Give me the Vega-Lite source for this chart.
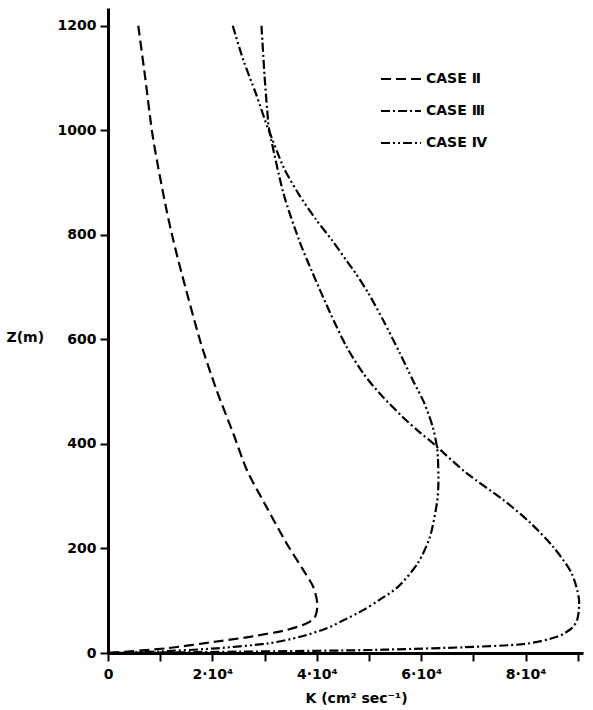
{
  "$schema": "https://vega.github.io/schema/vega-lite/v6.json",
  "width": 475,
  "height": 645,
  "autosize": "none",
  "padding": {"left": 108, "top": 8, "right": 10, "bottom": 57},
  "background": "white",
  "config": {
    "view": {"stroke": null},
    "font": "DejaVu Sans",
    "axis": {"grid": false, "domainColor": "#000000", "tickColor": "#000000", "labelColor": "#000000", "titleColor": "#000000"}
  },
  "datasets": {
    "curves": [
      {"case": "CASE Ⅱ", "i": 0, "K": 5800, "Z": 1200},
      {"case": "CASE Ⅱ", "i": 1, "K": 7100, "Z": 1103},
      {"case": "CASE Ⅱ", "i": 2, "K": 8400, "Z": 1000},
      {"case": "CASE Ⅱ", "i": 3, "K": 9600, "Z": 930},
      {"case": "CASE Ⅱ", "i": 4, "K": 11200, "Z": 848},
      {"case": "CASE Ⅱ", "i": 5, "K": 12500, "Z": 790},
      {"case": "CASE Ⅱ", "i": 6, "K": 14100, "Z": 727},
      {"case": "CASE Ⅱ", "i": 7, "K": 17600, "Z": 599},
      {"case": "CASE Ⅱ", "i": 8, "K": 20800, "Z": 503},
      {"case": "CASE Ⅱ", "i": 9, "K": 24000, "Z": 420},
      {"case": "CASE Ⅱ", "i": 10, "K": 26600, "Z": 350},
      {"case": "CASE Ⅱ", "i": 11, "K": 30000, "Z": 286},
      {"case": "CASE Ⅱ", "i": 12, "K": 34200, "Z": 210},
      {"case": "CASE Ⅱ", "i": 13, "K": 37400, "Z": 159},
      {"case": "CASE Ⅱ", "i": 14, "K": 39300, "Z": 127},
      {"case": "CASE Ⅱ", "i": 15, "K": 40100, "Z": 95},
      {"case": "CASE Ⅱ", "i": 16, "K": 39700, "Z": 70},
      {"case": "CASE Ⅱ", "i": 17, "K": 38100, "Z": 57},
      {"case": "CASE Ⅱ", "i": 18, "K": 34200, "Z": 44},
      {"case": "CASE Ⅱ", "i": 19, "K": 27200, "Z": 31},
      {"case": "CASE Ⅱ", "i": 20, "K": 20800, "Z": 22},
      {"case": "CASE Ⅱ", "i": 21, "K": 11200, "Z": 9},
      {"case": "CASE Ⅱ", "i": 22, "K": 0, "Z": 0},
      {"case": "CASE Ⅲ", "i": 0, "K": 29400, "Z": 1200},
      {"case": "CASE Ⅲ", "i": 1, "K": 30000, "Z": 1103},
      {"case": "CASE Ⅲ", "i": 2, "K": 30500, "Z": 1039},
      {"case": "CASE Ⅲ", "i": 3, "K": 31000, "Z": 995},
      {"case": "CASE Ⅲ", "i": 4, "K": 33600, "Z": 880},
      {"case": "CASE Ⅲ", "i": 5, "K": 36600, "Z": 790},
      {"case": "CASE Ⅲ", "i": 6, "K": 39200, "Z": 727},
      {"case": "CASE Ⅲ", "i": 7, "K": 42500, "Z": 652},
      {"case": "CASE Ⅲ", "i": 8, "K": 45700, "Z": 586},
      {"case": "CASE Ⅲ", "i": 9, "K": 48900, "Z": 535},
      {"case": "CASE Ⅲ", "i": 10, "K": 52200, "Z": 495},
      {"case": "CASE Ⅲ", "i": 11, "K": 56400, "Z": 452},
      {"case": "CASE Ⅲ", "i": 12, "K": 59400, "Z": 425},
      {"case": "CASE Ⅲ", "i": 13, "K": 62300, "Z": 401},
      {"case": "CASE Ⅲ", "i": 14, "K": 63300, "Z": 392},
      {"case": "CASE Ⅲ", "i": 15, "K": 68700, "Z": 344},
      {"case": "CASE Ⅲ", "i": 16, "K": 75700, "Z": 293},
      {"case": "CASE Ⅲ", "i": 17, "K": 80800, "Z": 250},
      {"case": "CASE Ⅲ", "i": 18, "K": 85300, "Z": 203},
      {"case": "CASE Ⅲ", "i": 19, "K": 88800, "Z": 153},
      {"case": "CASE Ⅲ", "i": 20, "K": 90200, "Z": 105},
      {"case": "CASE Ⅲ", "i": 21, "K": 90000, "Z": 68},
      {"case": "CASE Ⅲ", "i": 22, "K": 88900, "Z": 48},
      {"case": "CASE Ⅲ", "i": 23, "K": 86000, "Z": 31},
      {"case": "CASE Ⅲ", "i": 24, "K": 79600, "Z": 17},
      {"case": "CASE Ⅲ", "i": 25, "K": 68100, "Z": 11},
      {"case": "CASE Ⅲ", "i": 26, "K": 55300, "Z": 7},
      {"case": "CASE Ⅲ", "i": 27, "K": 46400, "Z": 5},
      {"case": "CASE Ⅲ", "i": 28, "K": 25000, "Z": 2.5},
      {"case": "CASE Ⅲ", "i": 29, "K": 0, "Z": 0},
      {"case": "CASE Ⅳ", "i": 0, "K": 23900, "Z": 1200},
      {"case": "CASE Ⅳ", "i": 1, "K": 25900, "Z": 1135},
      {"case": "CASE Ⅳ", "i": 2, "K": 28300, "Z": 1071},
      {"case": "CASE Ⅳ", "i": 3, "K": 30300, "Z": 1013},
      {"case": "CASE Ⅳ", "i": 4, "K": 31000, "Z": 995},
      {"case": "CASE Ⅳ", "i": 5, "K": 33600, "Z": 930},
      {"case": "CASE Ⅳ", "i": 6, "K": 36400, "Z": 880},
      {"case": "CASE Ⅳ", "i": 7, "K": 39800, "Z": 830},
      {"case": "CASE Ⅳ", "i": 8, "K": 42900, "Z": 790},
      {"case": "CASE Ⅳ", "i": 9, "K": 45600, "Z": 752},
      {"case": "CASE Ⅳ", "i": 10, "K": 47400, "Z": 727},
      {"case": "CASE Ⅳ", "i": 11, "K": 49900, "Z": 688},
      {"case": "CASE Ⅳ", "i": 12, "K": 52700, "Z": 637},
      {"case": "CASE Ⅳ", "i": 13, "K": 55900, "Z": 574},
      {"case": "CASE Ⅳ", "i": 14, "K": 58400, "Z": 522},
      {"case": "CASE Ⅳ", "i": 15, "K": 60600, "Z": 478},
      {"case": "CASE Ⅳ", "i": 16, "K": 62200, "Z": 433},
      {"case": "CASE Ⅳ", "i": 17, "K": 62900, "Z": 401},
      {"case": "CASE Ⅳ", "i": 18, "K": 63200, "Z": 375},
      {"case": "CASE Ⅳ", "i": 19, "K": 63300, "Z": 325},
      {"case": "CASE Ⅳ", "i": 20, "K": 63000, "Z": 286},
      {"case": "CASE Ⅳ", "i": 21, "K": 61700, "Z": 223},
      {"case": "CASE Ⅳ", "i": 22, "K": 59300, "Z": 171},
      {"case": "CASE Ⅳ", "i": 23, "K": 55600, "Z": 127},
      {"case": "CASE Ⅳ", "i": 24, "K": 52200, "Z": 103},
      {"case": "CASE Ⅳ", "i": 25, "K": 48900, "Z": 82},
      {"case": "CASE Ⅳ", "i": 26, "K": 45000, "Z": 62},
      {"case": "CASE Ⅳ", "i": 27, "K": 41800, "Z": 47},
      {"case": "CASE Ⅳ", "i": 28, "K": 36800, "Z": 31},
      {"case": "CASE Ⅳ", "i": 29, "K": 30400, "Z": 18},
      {"case": "CASE Ⅳ", "i": 30, "K": 20800, "Z": 9},
      {"case": "CASE Ⅳ", "i": 31, "K": 10000, "Z": 3},
      {"case": "CASE Ⅳ", "i": 32, "K": 0, "Z": 0}
    ],
    "xticks": [
      {"K": 0}, {"K": 10000}, {"K": 20000}, {"K": 30000}, {"K": 40000},
      {"K": 50000}, {"K": 60000}, {"K": 70000}, {"K": 80000}, {"K": 90000}
    ],
    "yticks": [
      {"Z": 0}, {"Z": 200}, {"Z": 400}, {"Z": 600}, {"Z": 800}, {"Z": 1000}, {"Z": 1200}
    ]
  },
  "encoding": {
    "x": {
      "field": "K", "type": "quantitative",
      "scale": {"domain": [0, 91000], "nice": false},
      "axis": {
        "values": [0, 10000, 20000, 30000, 40000, 50000, 60000, 70000, 80000, 90000],
        "labelExpr": "datum.value % 20000 == 0 ? (datum.value == 0 ? '0' : (datum.value / 10000) + '·10⁴') : ''",
        "domainWidth": 3, "tickWidth": 2, "tickSize": 8,
        "labelFontSize": 14, "labelFontWeight": "bold", "labelPadding": 6,
        "labelFont": "DejaVu Sans", "labelFlush": false,
        "title": "K (cm² sec⁻¹)",
        "titleFont": "DejaVu Sans", "titleFontSize": 14, "titleFontWeight": "bold",
        "titleX": 248, "titleY": 49, "titleBaseline": "alphabetic"
      }
    },
    "y": {
      "field": "Z", "type": "quantitative",
      "scale": {"domain": [0, 1234], "nice": false},
      "axis": {
        "values": [0, 200, 400, 600, 800, 1000, 1200],
        "format": "d",
        "domainWidth": 3, "tickWidth": 2, "tickSize": 8,
        "labelFontSize": 14, "labelFontWeight": "bold", "labelPadding": 4,
        "labelFont": "DejaVu Sans", "labelFlush": false,
        "title": "Z(m)", "titleAngle": 0, "titleAlign": "left", "titleBaseline": "middle",
        "titleX": -102, "titleY": 329,
        "titleFont": "DejaVu Sans", "titleFontSize": 14, "titleFontWeight": "bold"
      }
    }
  },
  "layer": [
    {
      "data": {"name": "curves"},
      "mark": {"type": "line", "color": "black", "strokeWidth": 2.2, "interpolate": "cardinal", "tension": 0.2},
      "encoding": {
        "strokeDash": {
          "field": "case", "type": "nominal",
          "scale": {"domain": ["CASE Ⅱ", "CASE Ⅲ", "CASE Ⅳ"], "range": [[10, 5], [9, 3, 2, 3], [9, 3, 2, 3, 2, 3]]},
          "legend": {
            "orient": "none", "legendX": 272, "legendY": 50, "title": null,
            "symbolType": "stroke", "symbolSize": 1600, "symbolStrokeWidth": 2, "symbolStrokeColor": "black",
            "labelFont": "DejaVu Sans", "labelFontSize": 14, "labelFontWeight": "bold", "labelColor": "black",
            "rowPadding": 4
          }
        },
        "order": {"field": "i", "type": "quantitative"}
      }
    },
    {
      "data": {"name": "xticks"},
      "mark": {"type": "tick", "orient": "vertical", "color": "black", "size": 8, "thickness": 2},
      "encoding": {"y": {"datum": 0}}
    },
    {
      "data": {"name": "yticks"},
      "mark": {"type": "tick", "orient": "horizontal", "color": "black", "size": 20, "thickness": 2},
      "encoding": {"x": {"datum": 0}}
    }
  ]
}
